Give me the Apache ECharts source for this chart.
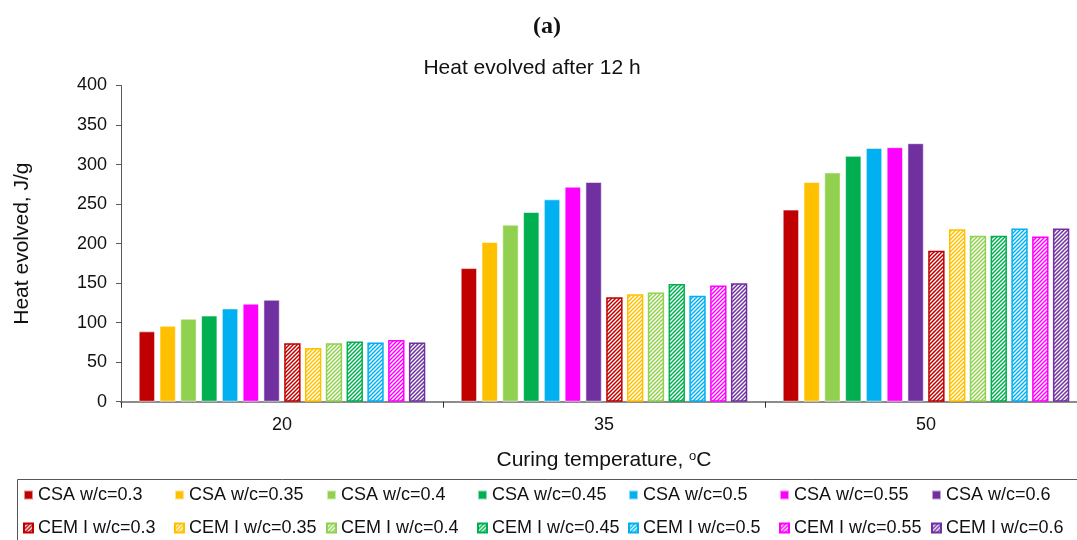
<!DOCTYPE html>
<html>
<head>
<meta charset="utf-8">
<script src="https://cdn.jsdelivr.net/npm/echarts@6/dist/echarts.min.js"></script>
<style>
  html, body { margin: 0; padding: 0; background: #fff; }
  #chart { width: 1077px; height: 540px; }
</style>
</head>
<body>
<div id="chart"></div>
<script>
// Curing temperatures (°C) on the category axis
const categories = ['20', '35', '50'];
// Water/cement ratios, one bar per ratio and binder
const wcRatios = ['0.3', '0.35', '0.4', '0.45', '0.5', '0.55', '0.6'];
// Heat evolved after 12 h, J/g, ordered by w/c ratio
const csaAt20 = [89, 96, 105, 109, 118, 124, 129];
const csaAt35 = [169, 202, 224, 240, 256, 272, 278];
const csaAt50 = [243, 278, 290, 311, 321, 322, 327];
const cemAt20 = [74, 68, 74, 76, 75, 78, 75];
const cemAt35 = [132, 136, 138, 149, 134, 147, 150];
const cemAt50 = [191, 218, 210, 210, 219, 209, 219];
// Y axis ticks
const yTicks = [0, 50, 100, 150, 200, 250, 300, 350, 400];

const palette = ['#C00000', '#FFC000', '#92D050', '#00B050', '#00B0F0', '#FF00FF', '#7030A0'];
const FONT = 'Liberation Sans, Arial, sans-serif';

// Diagonal white-hatched fill for CEM I bars
function hatch(color) {
  const s = 4;
  const c = document.createElement('canvas');
  c.width = s; c.height = s;
  const g = c.getContext('2d');
  g.fillStyle = color;
  g.fillRect(0, 0, s, s);
  g.strokeStyle = '#ffffff';
  g.lineWidth = 1.3;
  g.beginPath();
  g.moveTo(-1, s + 1); g.lineTo(s + 1, -1);
  g.moveTo(-1, 1); g.lineTo(1, -1);
  g.moveTo(s - 1, s + 1); g.lineTo(s + 1, s - 1);
  g.stroke();
  return c;
}

const series = [];
wcRatios.forEach((wc, i) => {
  series.push({
    name: 'CSA w/c=' + wc,
    type: 'bar',
    data: [csaAt20[i], csaAt35[i], csaAt50[i]],
    itemStyle: { color: palette[i], borderColor: 'rgba(255,255,255,0.55)', borderWidth: 1 },
    barGap: '27%',
    barCategoryGap: '11%'
  });
});
wcRatios.forEach((wc, i) => {
  series.push({
    name: 'CEM I w/c=' + wc,
    type: 'bar',
    data: [cemAt20[i], cemAt35[i], cemAt50[i]],
    itemStyle: {
      color: { image: hatch(palette[i]), repeat: 'repeat' },
      borderColor: palette[i],
      borderWidth: 1.5
    },
    barGap: '27%',
    barCategoryGap: '11%'
  });
});

// Legend laid out as a 7-column, 2-row table
const colLeft = [23, 174, 326, 477, 628, 779, 931];
const rowTop = [486, 519];
const legends = [];
series.forEach((s, k) => {
  legends.push({
    data: [s.name],
    left: colLeft[k % 7],
    top: rowTop[Math.floor(k / 7)],
    padding: 0,
    itemWidth: 9,
    itemHeight: 9,
    icon: 'rect',
    selectedMode: false,
    textStyle: { fontFamily: FONT, fontSize: 18, color: '#111' }
  });
});

const chart = echarts.init(document.getElementById('chart'));
chart.setOption({
  animation: false,
  backgroundColor: '#ffffff',
  title: [
    {
      text: '(a)', left: 542, top: 10, textAlign: 'center',
      textStyle: { fontFamily: 'Liberation Serif, serif', fontWeight: 'bold', fontSize: 24, color: '#111' }
    },
    {
      text: 'Heat evolved after 12 h', left: 527, top: 53, textAlign: 'center',
      textStyle: { fontFamily: FONT, fontWeight: 'normal', fontSize: 21, color: '#111' }
    }
  ],
  legend: legends,
  graphic: [
    {
      type: 'rect',
      shape: { x: 17.5, y: 479.5, width: 1100, height: 100 },
      style: { fill: 'none', stroke: '#555', lineWidth: 1 },
      z: 0
    }
  ],
  grid: { left: 121, top: 85.5, width: 966, bottom: 138.3, outerBoundsMode: 'none' },
  xAxis: {
    type: 'category',
    data: categories,
    name: 'Curing temperature, {sup|o}C',
    nameLocation: 'middle',
    nameGap: 48,
    nameTextStyle: {
      fontFamily: FONT, fontSize: 21, color: '#111',
      rich: { sup: { fontFamily: FONT, fontSize: 13, color: '#111', verticalAlign: 'top', padding: [0, 0, 8, 0] } }
    },
    axisLine: { lineStyle: { color: '#8c8c8c', width: 2 } },
    axisTick: { show: true, length: 6, lineStyle: { color: '#333', width: 1 } },
    axisLabel: { fontFamily: FONT, fontSize: 18, color: '#111', margin: 14 },
    splitLine: { show: false }
  },
  yAxis: {
    type: 'value',
    min: yTicks[0],
    max: yTicks[yTicks.length - 1],
    interval: yTicks[1] - yTicks[0],
    name: 'Heat evolved, J/g',
    nameLocation: 'middle',
    nameGap: 88,
    nameRotate: 90,
    nameTextStyle: { fontFamily: FONT, fontSize: 21, color: '#111' },
    axisLine: { show: true, lineStyle: { color: '#595959', width: 1 } },
    axisTick: { show: true, length: 5, lineStyle: { color: '#595959' } },
    axisLabel: { fontFamily: FONT, fontSize: 18, color: '#111', margin: 14 },
    splitLine: { show: false }
  },
  series: series
});
</script>
</body>
</html>
